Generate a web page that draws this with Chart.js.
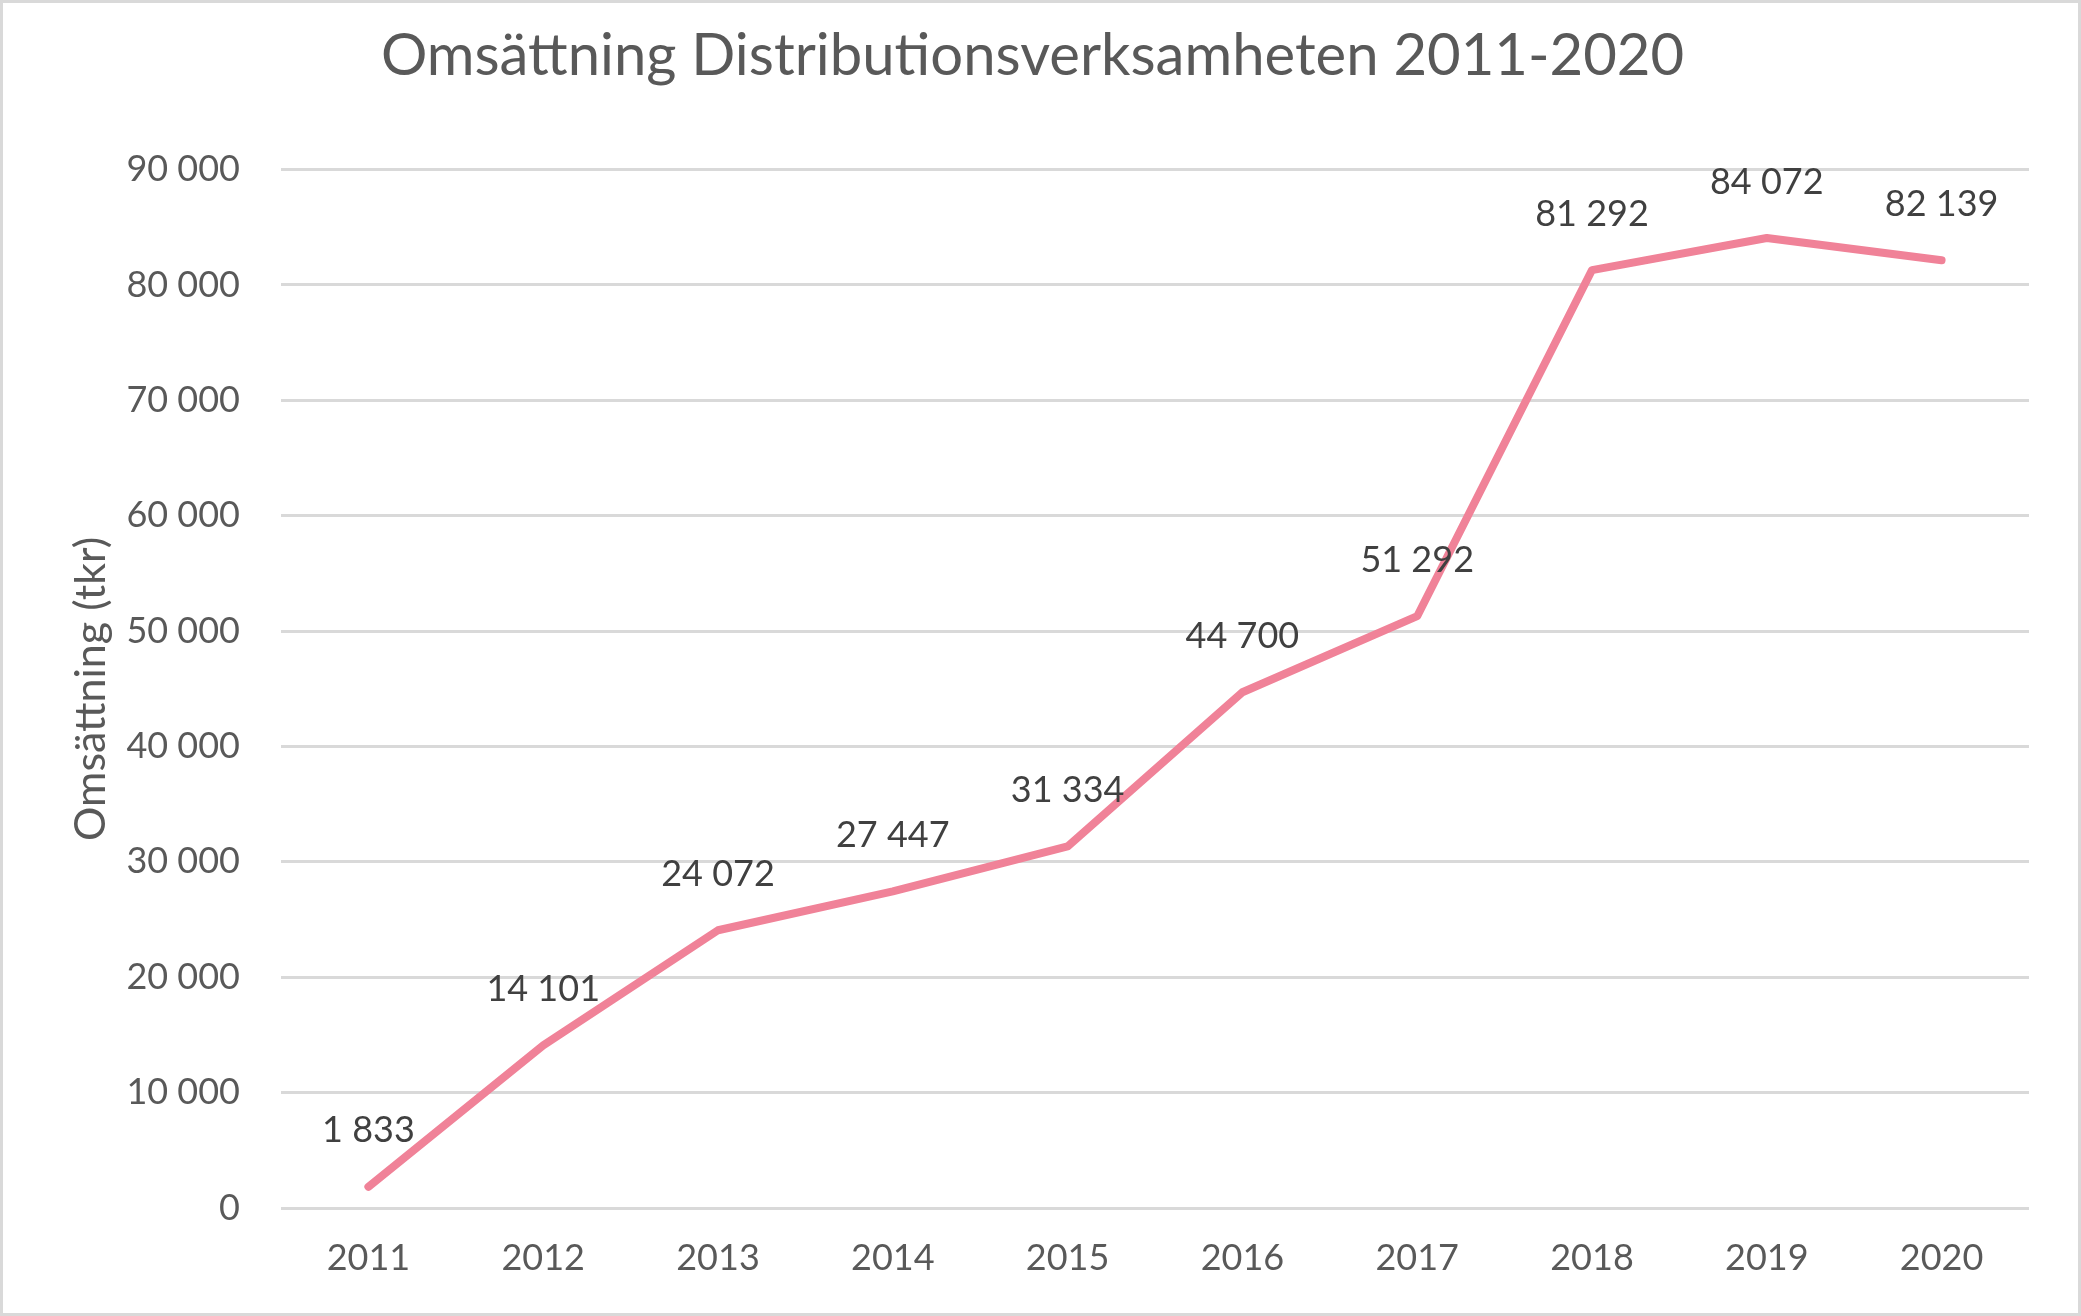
<!DOCTYPE html>
<html>
<head>
<meta charset="utf-8">
<script src="https://cdn.jsdelivr.net/npm/chart.js@4.4.1/dist/chart.umd.min.js"></script>
<style>
  html, body { margin: 0; padding: 0; background: #ffffff; }
  #wrap { width: 2081px; height: 1316px; position: relative; }
</style>
</head>
<body>
<div id="wrap"><canvas id="c" width="2081" height="1316"></canvas></div>
<script>
const chartTitle = "Omsättning Distributionsverksamheten 2011-2020";
const yAxisTitle = "Omsättning (tkr)";
const categories = ["2011", "2012", "2013", "2014", "2015", "2016", "2017", "2018", "2019", "2020"];
const revenue = [1833, 14101, 24072, 27447, 31334, 44700, 51292, 81292, 84072, 82139];
const yTicks = [0, 10000, 20000, 30000, 40000, 50000, 60000, 70000, 80000, 90000];

const FONT = "Lato, 'Open Sans', 'DejaVu Sans', sans-serif";

function fmt(v) {
  return String(Math.round(v)).replace(/\B(?=(\d{3})+(?!\d))/g, " ");
}

const dataLabels = {
  id: "dataLabels",
  afterDatasetsDraw(chart) {
    const ctx = chart.ctx;
    const meta = chart.getDatasetMeta(0);
    ctx.save();
    ctx.font = "36px " + FONT;
    ctx.fillStyle = "#404040";
    ctx.textAlign = "center";
    ctx.textBaseline = "middle";
    meta.data.forEach((pt, i) => {
      ctx.fillText(fmt(revenue[i]), pt.x, pt.y - 56);
    });
    ctx.restore();
  }
};

const frame = {
  id: "frame",
  afterDraw(chart) {
    const ctx = chart.ctx;
    ctx.save();
    ctx.strokeStyle = "#d9d9d9";
    ctx.lineWidth = 3;
    ctx.strokeRect(1.5, 1.5, chart.width - 3, chart.height - 3);
    ctx.restore();
  }
};

new Chart(document.getElementById("c"), {
  type: "line",
  data: {
    labels: categories,
    datasets: [{
      data: revenue,
      borderColor: "rgb(240,130,152)",
      borderWidth: 8,
      borderCapStyle: "round",
      borderJoinStyle: "round",
      pointRadius: 0,
      pointHoverRadius: 0,
      tension: 0,
      fill: false
    }]
  },
  options: {
    responsive: false,
    devicePixelRatio: 1,
    animation: false,
    events: [],
    layout: { padding: { top: 0, right: 52, bottom: 0, left: 36 } },
    plugins: {
      legend: { display: false },
      tooltip: { enabled: false },
      title: {
        display: true,
        text: chartTitle,
        color: "#595959",
        font: { family: FONT, size: 58, weight: "normal", lineHeight: 1.2 },
        padding: { top: 21, bottom: 79 }
      }
    },
    scales: {
      x: {
        type: "category",
        offset: true,
        grid: { display: false, drawTicks: false },
        border: { display: false },
        ticks: {
          color: "#595959",
          font: { family: FONT, size: 36 },
          padding: 29,
          maxRotation: 0,
          autoSkip: false
        },
        afterFit(scale) { scale.height = 108; }
      },
      y: {
        min: 0,
        max: 90000,
        afterBuildTicks(scale) { scale.ticks = yTicks.map(v => ({ value: v })); },
        grid: { color: "#d9d9d9", lineWidth: 3, drawTicks: false },
        border: { display: false },
        ticks: {
          color: "#595959",
          font: { family: FONT, size: 36 },
          padding: 41,
          callback: (v) => fmt(v)
        },
        title: {
          display: true,
          text: yAxisTitle,
          color: "#595959",
          font: { family: FONT, size: 43, weight: "normal", lineHeight: 1.2 },
          padding: { top: 29, bottom: 0 }
        },
        afterFit(scale) { scale.width = 245; }
      }
    }
  },
  plugins: [dataLabels, frame]
});
</script>
</body>
</html>
